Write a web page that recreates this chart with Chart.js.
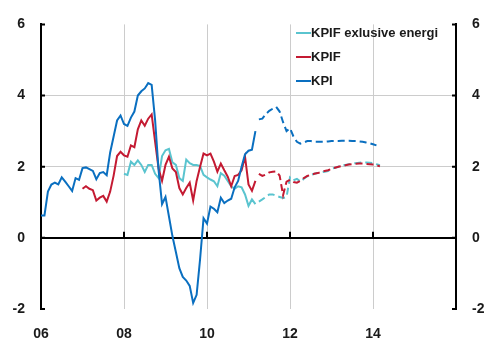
<!DOCTYPE html>
<html>
<head>
<meta charset="utf-8">
<script src="https://cdn.jsdelivr.net/npm/chart.js@4.4.0/dist/chart.umd.min.js"></script>
<style>
  body { margin: 0; background: #fff; }
  #wrap { width: 486px; height: 340px; }
</style>
</head>
<body>
<div id="wrap"><canvas id="chart"></canvas></div>
<script>
// months from 2006-01 to 2016-01 (x axis)
const months = [];
for (let y = 2006; y <= 2016; y++) {
    for (let m = 1; m <= 12; m++) {
        if (y === 2016 && m > 1) break;
        months.push(y + "-" + String(m).padStart(2, "0"));
    }
}

// KPI, outcome (from 2006-01) and forecast (from 2011-04)
const kpiStart = 0;
const kpi = [0.63, 0.63, 1.3, 1.5, 1.55, 1.5, 1.7, 1.58, 1.45, 1.32, 1.68, 1.63,
    1.96, 1.98, 1.93, 1.88, 1.65, 1.82, 1.85, 1.76, 2.4, 2.85, 3.3, 3.44,
    3.2, 3.15, 3.38, 3.55, 4.0, 4.12, 4.2, 4.35, 4.3, 3.3, 1.9, 0.95,
    1.15, 0.6, 0.05, -0.4, -0.85, -1.1, -1.2, -1.35, -1.83, -1.6, -0.6, 0.55,
    0.4, 0.88, 0.82, 0.72, 1.13, 0.98, 1.05, 1.1, 1.42, 1.6, 2.0, 2.35,
    2.45, 2.48, 3.0];
const kpiFcStart = 63;
const kpiFc = [3.33, 3.35, 3.48, 3.57, 3.63, 3.68, 3.55, 3.25, 3.0, 3.08, 2.85, 2.7,
    2.65, 2.68, 2.72, 2.72, 2.7, 2.7, 2.7, 2.7, 2.71, 2.72, 2.72, 2.72,
    2.73, 2.73, 2.73, 2.72, 2.72, 2.71, 2.7, 2.68, 2.66, 2.63, 2.6];

// KPIF
const kpifStart = 12;
const kpif = [1.38, 1.45, 1.38, 1.34, 1.05, 1.13, 1.18, 1.02, 1.3, 1.75, 2.3, 2.42,
    2.32, 2.28, 2.6, 2.55, 3.05, 3.3, 3.15, 3.35, 3.47, 2.7, 1.95, 1.6,
    2.05, 2.28, 1.95, 1.85, 1.4, 1.22, 1.4, 1.55, 1.05, 1.6, 2.0, 2.37,
    2.32, 2.37, 2.14, 1.86, 2.09, 1.9, 1.72, 1.45, 1.74, 1.77, 1.9, 2.28,
    1.5, 1.32, 1.6];
const kpifFcStart = 63;
const kpifFc = [1.8, 1.74, 1.78, 1.84, 1.86, 1.87, 1.75, 1.2, 1.58, 1.63, 1.57, 1.55,
    1.6, 1.68, 1.74, 1.77, 1.8, 1.82, 1.85, 1.88, 1.9, 1.94, 1.97, 2.0,
    2.02, 2.04, 2.06, 2.07, 2.08, 2.09, 2.09, 2.08, 2.07, 2.06, 2.04, 2.01];

// KPIF exklusive energi
const kpifxStart = 24;
const kpifx = [1.8, 1.77, 2.14, 2.05, 2.18, 2.05, 1.85, 2.05, 2.05, 1.8, 1.68, 2.3,
    2.46, 2.5, 2.12, 2.05, 1.68, 1.6, 2.2, 2.1, 2.05, 2.05, 2.02, 1.77,
    1.7, 1.64, 1.59, 1.45, 1.82, 1.75, 1.6, 1.45, 1.38, 1.45, 1.42, 1.22,
    0.9, 1.08, 0.95];
const kpifxFcStart = 63;
const kpifxFc = [1.02, 1.08, 1.15, 1.22, 1.22, 1.18, 1.15, 1.12, 1.15, 1.7, 1.62, 1.66,
    1.58, 1.66, 1.73, 1.76, 1.8, 1.82, 1.84, 1.86, 1.88, 1.94, 1.97, 2.0,
    2.03, 2.05, 2.07, 2.09, 2.1, 2.11, 2.12, 2.12, 2.11, 2.1, 2.07, 2.04];

const legendNames = ["KPIF exlusive energi", "KPIF", "KPI"];

const BLUE = "#0a6fc0";
const RED = "#c41a32";
const CYAN = "#5ac4cf";
const GRID = "#cccccc";
const FONT = "'Liberation Sans', Arial, sans-serif";

// put a series into the full month range
function pad(start, values) {
    let out = new Array(months.length).fill(null);
    values.forEach((v, i) => { out[start + i] = v; });
    return out;
}

function line(values, start, color, dashed) {
    return {
        data: pad(start, values),
        borderColor: color,
        borderWidth: 2,
        borderDash: dashed ? [7, 4] : [],
        pointRadius: 0,
        tension: 0,
        spanGaps: false,
        fill: false
    };
}

// legend + tick marks drawn by hand
const decor = {
    id: "decor",
    beforeDatasetsDraw(chart) {
        let ctx = chart.ctx;
        let x = chart.scales.x, y = chart.scales.y;
        let area = chart.chartArea;
        ctx.save();
        ctx.strokeStyle = "#000";
        ctx.lineWidth = 2;
        // inward ticks on both y axes
        y.ticks.forEach(t => {
            let py = y.getPixelForValue(t.value);
            ctx.beginPath();
            ctx.moveTo(area.left, py); ctx.lineTo(area.left + 4, py);
            ctx.moveTo(area.right, py); ctx.lineTo(area.right - 4, py);
            ctx.stroke();
        });
        // upward ticks on the zero line
        let y0 = y.getPixelForValue(0);
        x.ticks.forEach(t => {
            if (t.value === 0) return;
            let px = x.getPixelForValue(t.value);
            ctx.beginPath();
            ctx.moveTo(px, y0); ctx.lineTo(px, y0 - 6);
            ctx.stroke();
        });
        ctx.restore();
    },
    afterDraw(chart) {
        let ctx = chart.ctx;
        let colors = [CYAN, RED, BLUE];
        ctx.save();
        ctx.font = "bold 13px " + FONT;
        ctx.textBaseline = "middle";
        legendNames.forEach((name, i) => {
            let ly = 33 + i * 24;
            ctx.strokeStyle = colors[i];
            ctx.lineWidth = 2;
            ctx.beginPath();
            ctx.moveTo(296, ly); ctx.lineTo(311, ly);
            ctx.stroke();
            ctx.fillStyle = "#1a1a1a";
            ctx.fillText(name, 311, ly, 132);
        });
        ctx.restore();
    }
};

const tickFont = { family: FONT, size: 14, weight: "bold" };

new Chart(document.getElementById("chart").getContext("2d"), {
    type: "line",
    data: {
        labels: months,
        datasets: [
            line(kpi, kpiStart, BLUE, false),
            line(kpiFc, kpiFcStart, BLUE, true),
            line(kpif, kpifStart, RED, false),
            line(kpifFc, kpifFcStart, RED, true),
            line(kpifx, kpifxStart, CYAN, false),
            line(kpifxFc, kpifxFcStart, CYAN, true)
        ]
    },
    options: {
        responsive: true,
        maintainAspectRatio: false,
        animation: false,
        layout: { padding: { top: 19, left: 0, right: 0, bottom: 0 } },
        plugins: { legend: { display: false }, tooltip: { enabled: false } },
        scales: {
            x: {
                offset: false,
                border: { display: false },
                grid: {
                    drawTicks: false,
                    color: c => (c.tick && c.tick.value > 0) ? GRID : "rgba(0,0,0,0)",
                    lineWidth: 1
                },
                afterBuildTicks: s => {
                    s.ticks = s.ticks.filter(t => t.value % 24 === 0 && t.value < 120);
                },
                afterFit: s => { s.height = 31; },
                ticks: {
                    autoSkip: false,
                    maxRotation: 0,
                    padding: 17,
                    color: "#1a1a1a",
                    font: tickFont,
                    callback: v => months[v].substring(2, 4)
                }
            },
            y: {
                position: "left",
                min: -2, max: 6,
                border: { display: true, color: "#000", width: 2 },
                grid: {
                    drawTicks: false,
                    color: c => c.tick.value === 0 ? "#000" : (c.tick.value === 2 || c.tick.value === 4 ? GRID : "rgba(0,0,0,0)"),
                    lineWidth: c => c.tick.value === 0 ? 2 : 1
                },
                afterFit: s => { s.width = 41; },
                ticks: { stepSize: 2, padding: 16, color: "#1a1a1a", font: tickFont }
            },
            y2: {
                position: "right",
                min: -2, max: 6,
                border: { display: true, color: "#000", width: 2 },
                grid: { display: false, drawTicks: false },
                afterFit: s => { s.width = 30; },
                ticks: { stepSize: 2, padding: 16, color: "#1a1a1a", font: tickFont }
            }
        }
    },
    plugins: [decor]
});
</script>
</body>
</html>
